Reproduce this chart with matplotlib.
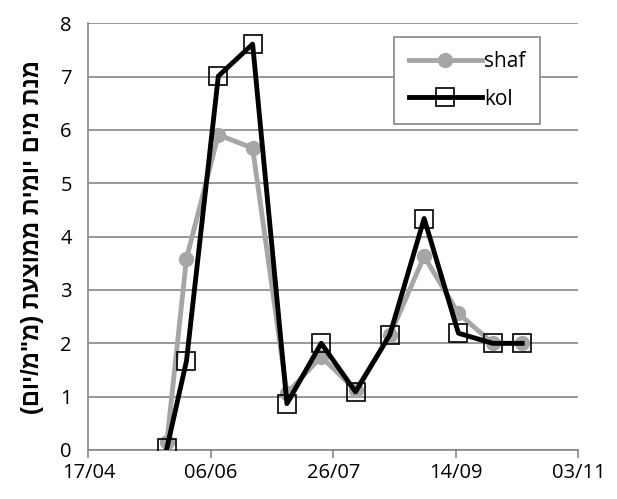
import matplotlib
matplotlib.use("Agg")
import matplotlib.pyplot as plt
import matplotlib.dates as mdates
import numpy as np

# sampling dates (dd/mm), values in mm/day
dates = ["2013-05-19", "2013-05-27", "2013-06-09", "2013-06-23", "2013-07-07",
         "2013-07-21", "2013-08-04", "2013-08-18", "2013-09-01", "2013-09-15",
         "2013-09-29", "2013-10-11"]
shaf = [0.15, 3.59, 5.91, 5.66, 1.06, 1.75, 1.12, 2.15, 3.63, 2.56, 2.0, 2.0]
kol = [0.03, 1.67, 7.01, 7.61, 0.87, 2.0, 1.09, 2.16, 4.34, 2.19, 2.0, 2.0]
tick_dates = ["2013-04-17", "2013-06-06", "2013-07-26", "2013-09-14", "2013-11-03"]
ylabel = 'מנת מים יומית ממוצעת (מ"מ/יום)'


def visual(s):
    # matplotlib has no bidi support: flip hebrew to visual order
    swap = {"(": ")", ")": "("}
    return "".join(swap.get(c, c) for c in s[::-1])


x = np.array(dates, dtype="datetime64[D]")
ticks = np.array(tick_dates, dtype="datetime64[D]")

fig = plt.figure(figsize=(6.17, 4.99), dpi=100)
ax = fig.add_axes([0.1434, 0.0982, 0.7942, 0.8551])

ax.plot(x, shaf, color="#a6a6a6", lw=3.5, marker="o", ms=10, label="shaf", zorder=3)
ax.plot(x, kol, color="black", lw=3.5, marker="s", ms=13, mfc="none", mec="black",
        mew=1.2, label="kol", zorder=4)

ax.set_xlim(ticks[0], ticks[-1])
ax.set_xticks(ticks)
ax.xaxis.set_major_formatter(mdates.DateFormatter("%d/%m"))
ax.set_ylim(0, 8)
ax.set_yticks(range(0, 9))

ax.grid(axis="y", color="#868686", lw=1.2)
ax.set_axisbelow(True)
for s in ["top", "right"]:
    ax.spines[s].set_visible(False)
for s in ["left", "bottom"]:
    ax.spines[s].set_color("#868686")
    ax.spines[s].set_linewidth(1.2)
ax.tick_params(axis="both", labelsize=14.5, color="#868686", width=1.2, length=6)
ax.tick_params(axis="y", length=0, pad=12)
for lab in ax.get_xticklabels() + ax.get_yticklabels():
    lab.set_family("Open Sans")

ax.set_ylabel(visual(ylabel), family="Liberation Sans", fontweight="bold",
              fontsize=17, labelpad=12)

leg = ax.legend(loc="upper right", bbox_to_anchor=(0.921, 0.969), fontsize=15,
                fancybox=False, edgecolor="#868686", framealpha=1,
                handlelength=3.5, handletextpad=0.1, borderpad=0.7,
                labelspacing=0.8, borderaxespad=0)
leg.get_frame().set_linewidth(1.2)
for t in leg.get_texts():
    t.set_family("Open Sans")

fig.savefig("out.png", dpi=100)
